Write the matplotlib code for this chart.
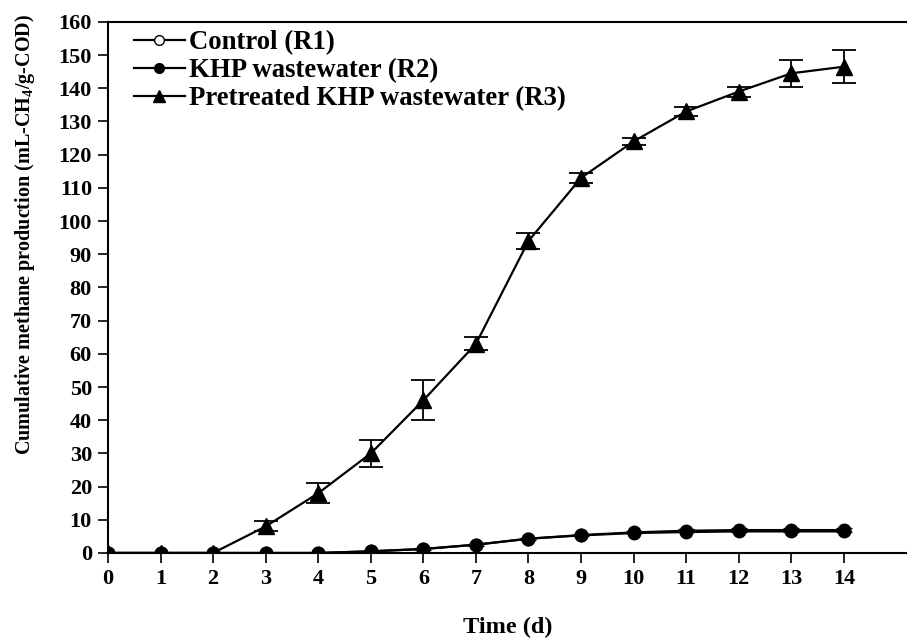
import numpy as np
import matplotlib.pyplot as plt
from matplotlib.lines import Line2D

plt.rcParams['font.family'] = ['Liberation Serif', 'DejaVu Serif']
plt.rcParams['font.weight'] = 'bold'
plt.rcParams['mathtext.fontset'] = 'custom'
plt.rcParams['mathtext.rm'] = 'Liberation Serif:bold'

days = np.arange(0, 15)
r1 = [0, 0, 0, 0, 0, 0.5, 1.2, 2.5, 4.3, 5.4, 6.2, 6.7, 6.9, 6.9, 6.9]
r1_err = [0, 0, 0, 0, 0, 0.2, 0.2, 0.3, 0.3, 0.3, 0.3, 0.4, 0.5, 0.5, 0.5]
r2 = [0, 0, 0, 0, 0, 0.5, 1.2, 2.5, 4.3, 5.3, 6.0, 6.3, 6.5, 6.5, 6.5]
r3 = [0, 0, 0, 8, 18, 30, 46, 63, 94, 113, 124, 133, 139, 144.5, 146.5]
r3_err = [0, 0, 0, 1.5, 3, 4, 6, 2, 2.5, 1.5, 1, 1.5, 1.5, 4, 5]

fig = plt.figure(figsize=(9.07, 6.43), dpi=100)
ax = fig.add_axes([0.119, 0.14, 0.881, 0.826])

ax.errorbar(days, r1, yerr=r1_err, color='k', lw=1.6, marker='o', ms=9,
            mfc='white', mec='k', capsize=6, elinewidth=1.2, zorder=2)
ax.plot(days, r2, color='k', lw=1.6, marker='o', ms=9, zorder=4)
ax.errorbar(days, r3, yerr=r3_err, color='k', lw=1.6, marker='^', ms=11,
            capsize=8.5, elinewidth=1.3, capthick=1.3, zorder=5)

ax.set_xlim(0, 15.2)
ax.set_ylim(0, 160)
ax.set_xticks(range(0, 15))
ax.set_yticks(range(0, 161, 10))
ax.tick_params(direction='out', length=7.5, width=1.2, labelsize=16, pad=4)
for s in ['left', 'bottom', 'top']:
    ax.spines[s].set_linewidth(1.5)
ax.spines['right'].set_visible(False)

ax.set_xlabel('Time (d)', fontsize=17.5, fontweight='bold')
ax.xaxis.set_label_coords(0.5, -0.12)
ax.set_ylabel('Cumulative methane production (mL-CH$_4$/g-COD)', fontsize=14.5,
              fontweight='bold')
ax.yaxis.set_label_coords(-0.089, 0.6)

handles = [
    Line2D([], [], color='k', lw=1.6, marker='o', ms=7, mfc='white', mec='k'),
    Line2D([], [], color='k', lw=1.6, marker='o', ms=7),
    Line2D([], [], color='k', lw=1.6, marker='^', ms=8),
]
labels = ['Control (R1)', 'KHP wastewater (R2)', 'Pretreated KHP wastewater (R3)']
ax.legend(handles, labels, loc='upper left', bbox_to_anchor=(0.019, 1.005),
          frameon=False, handlelength=1.9, handletextpad=0.15,
          labelspacing=0.12, borderaxespad=0.0,
          prop={'weight': 'bold', 'size': 19.3})

fig.savefig('out.png', dpi=100)
